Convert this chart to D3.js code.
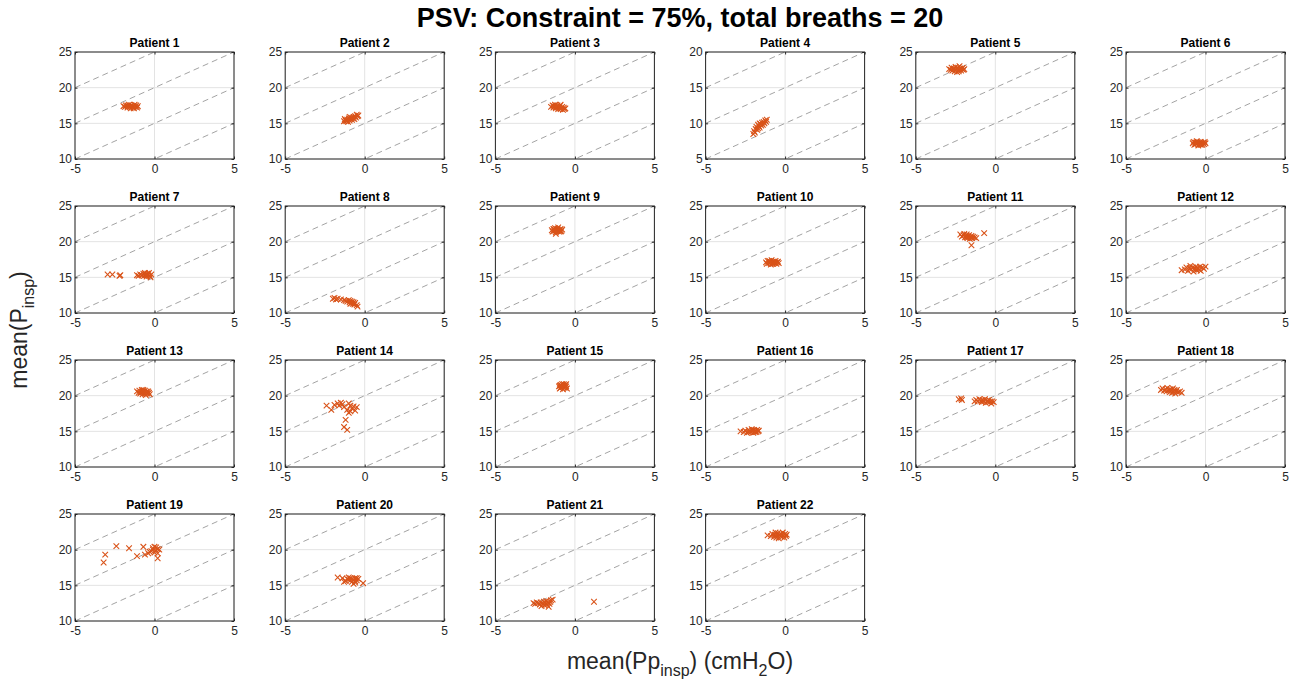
<!DOCTYPE html>
<html>
<head>
<meta charset="utf-8">
<script src="https://cdn.jsdelivr.net/npm/d3@7"></script>
<style>
  body { margin: 0; background: #fff; }
  text { font-family: "Liberation Sans", Arial, sans-serif; }
</style>
</head>
<body>
<div id="root"></div>
<script>
const width = 1296;
const height = 682;

// data: [mean(Pp_insp), mean(P_insp)] per breath
const p1 = [[-1.95,17.4],[-1.85,17.3],[-1.8,17.5],[-1.7,17.2],[-1.65,17.4],[-1.6,17.6],[-1.55,17.3],[-1.5,17.1],[-1.45,17.5],[-1.4,17.3],[-1.35,17.4],[-1.3,17.2],[-1.25,17.6],[-1.2,17.3],[-1.15,17.5],[-1.1,17.2],[-1.05,17.4],[-1.5,17.4],[-1.7,17.5],[-1.3,17.1]];
const p2 = [[-1.3,15.3],[-1.25,15.6],[-1.2,15.4],[-1.1,15.5],[-1.05,15.2],[-1.0,15.7],[-0.95,15.4],[-0.9,15.6],[-0.85,15.8],[-0.8,15.5],[-0.75,15.7],[-0.7,15.9],[-0.65,15.6],[-0.6,16.0],[-0.55,15.8],[-0.5,16.2],[-0.45,16.0],[-0.4,16.1],[-1.15,15.3],[-0.95,15.9]];
const p3 = [[-1.5,17.3],[-1.4,17.5],[-1.35,17.2],[-1.3,17.4],[-1.25,17.6],[-1.2,17.1],[-1.15,17.3],[-1.1,17.5],[-1.05,17.0],[-1.0,17.2],[-0.95,17.4],[-0.9,17.6],[-0.85,17.1],[-0.8,17.3],[-0.75,16.9],[-0.7,17.2],[-0.65,17.0],[-0.6,17.1],[-1.2,17.3],[-0.9,17.0]];
const p4 = [[-2.0,8.5],[-1.95,8.9],[-1.9,8.7],[-1.85,9.2],[-1.8,9.5],[-1.75,9.1],[-1.7,9.8],[-1.65,9.6],[-1.6,10.0],[-1.6,9.4],[-1.55,9.9],[-1.5,9.7],[-1.45,10.1],[-1.4,9.8],[-1.35,10.2],[-1.3,10.0],[-1.25,10.4],[-1.2,10.2],[-1.15,10.5],[-1.7,9.3]];
const p5 = [[-2.9,22.6],[-2.8,22.5],[-2.75,22.8],[-2.7,22.4],[-2.6,22.7],[-2.55,22.3],[-2.5,22.9],[-2.45,22.6],[-2.4,22.2],[-2.35,22.8],[-2.3,22.5],[-2.25,23.0],[-2.2,22.7],[-2.15,22.4],[-2.1,22.6],[-2.05,22.8],[-2.0,22.5],[-1.95,22.6],[-2.6,22.6],[-2.3,22.3]];
const p6 = [[-0.8,12.2],[-0.75,12.4],[-0.7,12.0],[-0.65,12.3],[-0.6,12.1],[-0.55,12.5],[-0.5,12.2],[-0.45,11.9],[-0.4,12.3],[-0.35,12.1],[-0.3,12.4],[-0.25,12.2],[-0.2,12.0],[-0.15,12.3],[-0.1,12.1],[-0.05,12.4],[0.0,12.2],[-0.5,12.4],[-0.3,12.0],[-0.6,12.3]];
const p7 = [[-2.95,15.4],[-2.65,15.4],[-2.2,15.2],[-2.15,15.3],[-1.1,15.3],[-1.0,15.2],[-0.9,15.4],[-0.8,15.3],[-0.7,15.5],[-0.65,15.2],[-0.6,15.6],[-0.55,15.4],[-0.5,15.1],[-0.45,15.5],[-0.4,15.3],[-0.35,15.6],[-0.3,15.2],[-0.25,15.0],[-0.2,15.4],[-0.5,15.3]];
const p8 = [[-2.0,12.0],[-1.9,12.1],[-1.8,11.9],[-1.7,12.0],[-1.5,11.9],[-1.3,11.8],[-1.2,11.7],[-1.1,11.6],[-1.0,11.8],[-0.95,11.5],[-0.9,11.7],[-0.85,11.4],[-0.8,11.6],[-0.75,11.3],[-0.7,11.5],[-0.65,11.2],[-0.6,11.4],[-0.5,11.1],[-0.45,10.9],[-0.9,11.3]];
const p9 = [[-1.45,21.6],[-1.4,21.4],[-1.35,21.8],[-1.3,21.5],[-1.25,21.9],[-1.2,21.3],[-1.15,21.7],[-1.1,21.5],[-1.05,22.0],[-1.0,21.4],[-0.95,21.6],[-0.9,21.8],[-0.85,21.5],[-0.8,21.7],[-1.2,21.1],[-1.1,21.8],[-1.0,21.6],[-1.3,21.7],[-0.9,21.4],[-1.15,21.5]];
const p10 = [[-1.2,17.1],[-1.15,16.9],[-1.1,17.3],[-1.0,17.0],[-0.95,17.2],[-0.9,16.8],[-0.85,17.4],[-0.8,17.1],[-0.75,16.9],[-0.7,17.2],[-0.65,17.0],[-0.6,17.3],[-0.55,16.9],[-0.5,17.1],[-0.45,17.2],[-0.4,17.0],[-1.0,17.3],[-0.8,16.9],[-0.6,17.1],[-0.9,17.1]];
const p11 = [[-2.2,21.0],[-2.1,20.7],[-2.0,20.9],[-1.95,21.1],[-1.9,20.6],[-1.85,20.8],[-1.8,21.0],[-1.75,20.5],[-1.7,20.7],[-1.65,20.9],[-1.6,20.4],[-1.55,20.6],[-1.5,20.8],[-1.45,20.5],[-1.4,20.7],[-1.3,20.6],[-1.2,20.5],[-0.7,21.2],[-1.5,19.5],[-1.8,20.6]];
const p12 = [[-1.5,16.0],[-1.3,16.1],[-1.2,16.4],[-1.1,15.9],[-1.0,16.3],[-0.95,16.6],[-0.9,16.1],[-0.8,16.4],[-0.75,15.8],[-0.7,16.2],[-0.6,16.5],[-0.55,16.0],[-0.5,16.3],[-0.4,16.1],[-0.35,16.5],[-0.3,15.9],[-0.2,16.4],[-0.1,16.2],[0.0,16.5],[-0.6,16.2]];
const p13 = [[-1.1,20.6],[-1.0,20.4],[-0.95,20.7],[-0.9,20.3],[-0.85,20.5],[-0.8,20.8],[-0.75,20.2],[-0.7,20.6],[-0.65,20.4],[-0.6,20.7],[-0.55,20.1],[-0.5,20.5],[-0.45,20.3],[-0.4,20.6],[-0.35,20.4],[-0.3,20.2],[-0.8,20.5],[-0.6,20.3],[-0.7,20.8],[-0.5,20.6]];
const p14 = [[-2.4,18.6],[-2.1,18.0],[-1.9,18.7],[-1.7,18.9],[-1.5,19.0],[-1.4,18.8],[-1.3,18.4],[-1.1,18.0],[-1.0,18.9],[-0.9,18.6],[-0.8,18.2],[-0.7,18.5],[-0.6,17.9],[-1.0,17.6],[-1.2,16.6],[-1.3,15.6],[-1.1,15.2],[-0.5,18.4],[-1.6,18.6],[-0.9,17.8]];
const p15 = [[-1.0,21.3],[-0.95,21.0],[-0.9,21.5],[-0.85,21.2],[-0.8,21.6],[-0.75,20.9],[-0.7,21.4],[-0.65,21.1],[-0.6,21.5],[-0.55,21.3],[-0.5,21.0],[-0.9,21.1],[-0.8,21.3],[-0.7,21.6],[-0.6,21.2],[-0.85,21.4],[-0.75,21.2],[-0.65,21.4],[-0.55,21.6],[-0.95,21.4]];
const p16 = [[-2.8,15.0],[-2.6,14.9],[-2.5,15.1],[-2.4,14.8],[-2.3,15.2],[-2.2,15.0],[-2.15,14.9],[-2.1,15.3],[-2.05,15.1],[-2.0,14.8],[-1.95,15.2],[-1.9,15.0],[-1.85,15.1],[-1.8,14.9],[-1.75,15.2],[-1.7,15.0],[-1.65,15.1],[-2.3,14.9],[-2.0,15.1],[-1.9,14.9]];
const p17 = [[-2.3,19.5],[-2.15,19.6],[-2.1,19.4],[-1.3,19.2],[-1.2,19.4],[-1.1,19.2],[-1.0,19.5],[-0.9,19.3],[-0.85,19.1],[-0.8,19.4],[-0.7,19.2],[-0.65,19.5],[-0.6,19.0],[-0.5,19.3],[-0.45,19.1],[-0.4,19.4],[-0.3,19.2],[-0.25,18.9],[-0.2,19.2],[-0.1,19.1]];
const p18 = [[-2.8,20.8],[-2.7,21.0],[-2.6,20.7],[-2.5,20.9],[-2.45,20.6],[-2.4,21.1],[-2.3,20.8],[-2.25,20.5],[-2.2,20.9],[-2.15,20.7],[-2.1,20.4],[-2.05,21.0],[-2.0,20.6],[-1.95,20.8],[-1.9,20.3],[-1.85,20.6],[-1.8,20.8],[-1.7,20.5],[-1.6,20.6],[-1.5,20.4]];
const p19 = [[-3.2,18.2],[-3.1,19.3],[-2.4,20.5],[-1.6,20.2],[-1.1,19.1],[-0.7,20.4],[-0.6,19.3],[-0.4,19.5],[-0.2,19.8],[-0.1,20.2],[0.0,20.4],[0.1,19.9],[0.2,20.1],[0.2,18.8],[0.3,20.0],[-0.3,19.7],[0.0,19.6],[0.1,20.3],[-0.1,20.0],[0.2,19.5]];
const p20 = [[-1.7,16.1],[-1.4,16.0],[-1.2,15.6],[-1.1,15.9],[-1.0,16.1],[-0.9,15.7],[-0.8,15.5],[-0.7,15.2],[-0.6,16.0],[-0.5,15.7],[-0.4,15.9],[-0.1,15.3],[-0.8,15.9],[-0.6,15.4],[-1.3,15.5],[-0.7,15.8],[-1.0,15.8],[-0.5,16.0],[-0.9,16.0],[-0.6,15.6]];
const p21 = [[-2.6,12.5],[-2.5,12.4],[-2.4,12.6],[-2.3,12.5],[-2.2,12.3],[-2.15,12.6],[-2.1,12.1],[-2.0,12.4],[-1.95,12.7],[-1.9,12.2],[-1.85,12.5],[-1.8,12.8],[-1.75,12.3],[-1.7,12.6],[-1.65,12.0],[-1.6,12.4],[-1.55,12.7],[-1.5,12.9],[-1.4,13.0],[1.2,12.7]];
const p22 = [[-1.1,22.0],[-0.9,21.9],[-0.8,22.2],[-0.7,21.8],[-0.65,22.1],[-0.6,22.4],[-0.55,21.7],[-0.5,22.0],[-0.45,22.3],[-0.4,21.6],[-0.35,22.1],[-0.3,21.9],[-0.25,22.2],[-0.2,21.8],[-0.15,22.4],[-0.1,22.0],[-0.05,21.7],[0.0,22.2],[0.05,21.9],[0.1,22.1]];

const patients = [p1, p2, p3, p4, p5, p6, p7, p8, p9, p10, p11, p12, p13, p14, p15, p16, p17, p18, p19, p20, p21, p22];
const xTicks = [-5, 0, 5];
const yTicksDefault = [10, 15, 20, 25];
const yTicksP4 = [5, 10, 15, 20];
// dashed reference lines y = x + c
const lineOffsets = [0, 5, 10, 15, 20, 25, 30];

const cols = 6;
const plotW = 159, plotH = 107;
const colStep = 210.2, rowStep = 154;
const left0 = 75, top0 = 52;
const axisColor = "#262626";
const markerColor = "#D95319";
const plainNum = (d) => String(d);

const svg = d3.select("#root")
    .append("svg")
    .attr("width", width)
    .attr("height", height);

svg.append("text")
    .attr("x", 680)
    .attr("y", 27)
    .attr("text-anchor", "middle")
    .attr("font-size", "27px")
    .attr("font-weight", "bold")
    .attr("fill", "#000")
    .text("PSV: Constraint = 75%, total breaths = 20");

patients.forEach((pts, i) => {
    const col = i % cols, row = Math.floor(i / cols);
    const ox = left0 + col * colStep, oy = top0 + row * rowStep;
    const yTicks = i === 3 ? yTicksP4 : yTicksDefault;

    const x = d3.scaleLinear().domain([-5, 5]).range([0, plotW]);
    const y = d3.scaleLinear().domain(d3.extent(yTicks)).range([plotH, 0]);

    const g = svg.append("g").attr("transform", `translate(${ox},${oy})`);

    g.append("clipPath").attr("id", `clip${i}`)
        .append("rect").attr("width", plotW).attr("height", plotH);

    // grid
    g.selectAll(".gx").data(xTicks).enter().append("line")
        .attr("x1", x).attr("x2", x).attr("y1", 0).attr("y2", plotH)
        .attr("stroke", "#e3e3e3").attr("stroke-width", 1);
    g.selectAll(".gy").data(yTicks).enter().append("line")
        .attr("y1", y).attr("y2", y).attr("x1", 0).attr("x2", plotW)
        .attr("stroke", "#e3e3e3").attr("stroke-width", 1);

    // dashed diagonals
    g.append("g").attr("clip-path", `url(#clip${i})`)
        .selectAll("line").data(lineOffsets).enter().append("line")
        .attr("x1", x(-5)).attr("y1", (c) => y(-5 + c))
        .attr("x2", x(5)).attr("y2", (c) => y(5 + c))
        .attr("stroke", "#8c8c8c")
        .attr("stroke-width", 0.8)
        .attr("stroke-dasharray", "6,4");

    // markers
    g.append("g").attr("clip-path", `url(#clip${i})`)
        .selectAll("path").data(pts).enter().append("path")
        .attr("transform", (d) => `translate(${x(d[0])},${y(d[1])})`)
        .attr("d", "M-2.8,-2.8L2.8,2.8M-2.8,2.8L2.8,-2.8")
        .attr("stroke", markerColor)
        .attr("stroke-width", 1.1)
        .attr("fill", "none");

    // axes (box with inward ticks)
    const tl = 2.5;
    g.append("g").attr("transform", `translate(0,${plotH})`)
        .call(d3.axisBottom(x).tickValues(xTicks).tickFormat(plainNum).tickSizeInner(-tl).tickSizeOuter(0))
        .call(ax => ax.select(".domain").remove())
        .call(ax => ax.selectAll(".tick text").attr("y", 5).attr("dy", "0.71em"));
    g.append("g")
        .call(d3.axisTop(x).tickValues(xTicks).tickSizeInner(-tl).tickSizeOuter(0).tickFormat(""))
        .call(ax => ax.select(".domain").remove());
    g.append("g")
        .call(d3.axisLeft(y).tickValues(yTicks).tickFormat(plainNum).tickSizeInner(-tl).tickSizeOuter(0))
        .call(ax => ax.select(".domain").remove())
        .call(ax => ax.selectAll(".tick text").attr("x", -3));
    g.append("g").attr("transform", `translate(${plotW},0)`)
        .call(d3.axisRight(y).tickValues(yTicks).tickSizeInner(-tl).tickSizeOuter(0).tickFormat(""))
        .call(ax => ax.select(".domain").remove());

    g.selectAll(".tick line").attr("stroke", axisColor);
    g.selectAll(".tick text")
        .attr("fill", axisColor)
        .attr("font-size", "12px")
        .attr("font-family", "Liberation Sans, Arial, sans-serif");

    g.append("rect")
        .attr("width", plotW).attr("height", plotH)
        .attr("fill", "none")
        .attr("stroke", axisColor)
        .attr("stroke-width", 1);

    g.append("text")
        .attr("x", plotW / 2)
        .attr("y", -5)
        .attr("text-anchor", "middle")
        .attr("font-size", "12px")
        .attr("font-weight", "bold")
        .attr("fill", "#000")
        .text(`Patient ${i + 1}`);
});

// global axis labels
const xl = svg.append("text")
    .attr("x", 680)
    .attr("y", 669)
    .attr("text-anchor", "middle")
    .attr("font-size", "23px")
    .attr("fill", "#262626");
xl.append("tspan").text("mean(Pp");
xl.append("tspan").attr("font-size", "16px").attr("dy", 7).text("insp");
xl.append("tspan").attr("dy", -7).text(") (cmH");
xl.append("tspan").attr("font-size", "16px").attr("dy", 7).text("2");
xl.append("tspan").attr("dy", -7).text("O)");

const yl = svg.append("text")
    .attr("transform", "translate(27,330) rotate(-90)")
    .attr("text-anchor", "middle")
    .attr("font-size", "23px")
    .attr("fill", "#262626");
yl.append("tspan").text("mean(P");
yl.append("tspan").attr("font-size", "16px").attr("dy", 7).text("insp");
yl.append("tspan").attr("dy", -7).text(")");
</script>
</body>
</html>
